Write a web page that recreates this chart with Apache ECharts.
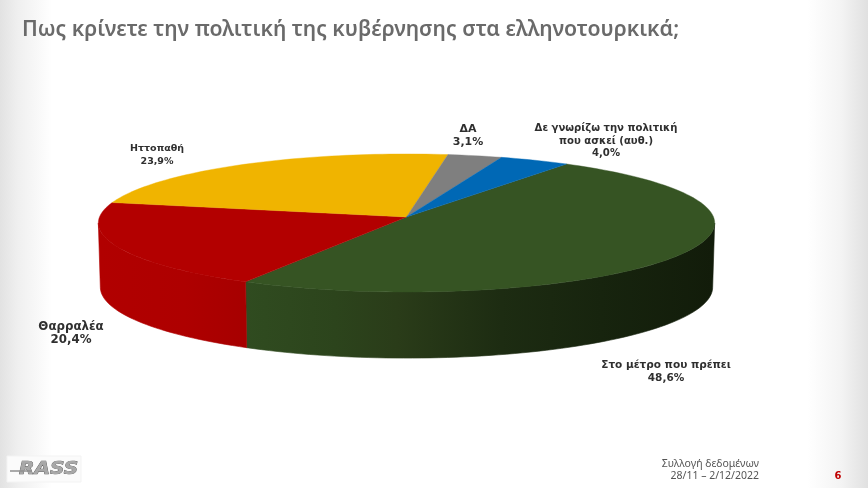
<!DOCTYPE html>
<html><head><meta charset="utf-8">
<style>html,body{margin:0;padding:0;background:#fff}#c{width:868px;height:488px}</style>
<script src="https://cdn.jsdelivr.net/npm/echarts@6/dist/echarts.min.js"></script>
</head><body><div id="c"></div>
<script>
var categories = ['Στο μέτρο που πρέπει','Θαρραλέα','Ηττοπαθή','ΔΑ','Δε γνωρίζω την πολιτική\nπου ασκεί (αυθ.)'];
var values = [48.6,20.4,23.9,3.1,4.0];
var topColors = ['#365423','#b30000','#f0b400','#7f7f7f','#0068b5'];
var titleText = 'Πως κρίνετε την πολιτική της κυβέρνησης στα ελληνοτουρκικά;';
var footerLines = 'Συλλογή δεδομένων\n28/11 – 2/12/2022';
var pageNumber = '6';

// layout of the tilted pie (perspective-projected circle)
var startDeg = 34, cx = 406.5, cyTop = 217, cyBot = 281;
var radX = 307, radXBot = 305, radY = 68.5, radYBot = 70.4, persp = 0.087;
var labelPos = [[666,372],[71,333.5],[157,155],[468,135.5],[606,141]];
var labelSize = [10.5,11.8,9.5,11,10.1];
var labelLeading = [12.5,13,12.5,13.5,12.5];
var sideStops = [
  {x0:241,x1:714,stops:[[0,'#304c20'],[0.2,'#2c441c'],[0.33,'#2a3c19'],[0.55,'#1d2c12'],[0.76,'#17240e'],[1,'#121c0a']]},
  {x0:100,x1:241,stops:[[0,'#b10000'],[0.6,'#ae0000'],[1,'#a70000']]}
];

function pt(deg, bottom){
  var r = deg*Math.PI/180, sx = Math.sin(r), s = -Math.cos(r), d = 1-persp*s;
  return bottom ? [cx+radXBot*sx/d, cyBot+radYBot*s/d] : [cx+radX*sx/d, cyTop+radY*s/d];
}
function arc(a,b,bottom){
  var out=[], n=Math.max(2,Math.ceil((b-a)/1.5));
  for(var i=0;i<=n;i++) out.push(pt(a+(b-a)*i/n,bottom));
  return out;
}
var total = values.reduce(function(p,v){return p+v;},0);
function fmt(v){return v.toFixed(1).replace('.',',')+'%';}

function renderItem(params, api){
  var idx = params.dataIndex, v = api.value(0);
  var before = 0;
  for(var i=0;i<idx;i++) before += values[i];
  var a0 = startDeg + before/total*360, a1 = a0 + v/total*360;
  var kids = [];
  var lo = Math.max(a0,95), hi = Math.min(a1,265);
  if(hi>lo && sideStops[idx]){
    var g = sideStops[idx];
    var poly = arc(lo,hi,false).concat(arc(lo,hi,true).reverse());
    var grad = {type:'linear',x:g.x0,y:0,x2:g.x1,y2:0,global:true,
        colorStops:g.stops.map(function(s){return {offset:s[0],color:s[1]};})};
    kids.push({type:'polygon',shape:{points:poly},style:{fill:grad,stroke:grad,lineWidth:0.6}});
  }
  var face = [[cx,cyTop]].concat(arc(a0,a1,false));
  kids.push({type:'polygon',shape:{points:face},style:{fill:topColors[idx],stroke:topColors[idx],lineWidth:0.4}});
  return {type:'group',children:kids};
}
function renderLabel(params, api){
  var idx = params.dataIndex, p = labelPos[idx];
  return {type:'text',style:{x:p[0],y:p[1],text:categories[idx]+'\n'+fmt(api.value(0)),
    align:'center',verticalAlign:'middle',fill:'#2f2f2f',lineHeight:labelLeading[idx],
    font:'bold '+labelSize[idx]+'px "DejaVu Sans"'}};
}
var chart = echarts.init(document.getElementById('c'),null,{renderer:'canvas'});
var rows = values.map(function(v){return [v];});
chart.setOption({
  animation:false,
  backgroundColor:'#ffffff',
  graphic:[
    {type:'rect',z:-10,shape:{x:0,y:0,width:868,height:488},style:{fill:{type:'linear',x:0,y:0,x2:1,y2:0,colorStops:[
      {offset:0,color:'#e2e2e2'},{offset:0.02,color:'#efefef'},{offset:0.06,color:'#ffffff'},
      {offset:0.93,color:'#ffffff'},{offset:0.97,color:'#f3f3f3'},{offset:1,color:'#e0e0e0'}]}}},
    {type:'text',z:10,style:{x:22,y:30,text:titleText,verticalAlign:'middle',fill:'#6a6a6a',font:'600 21.2px "Noto Sans"'}},
    {type:'text',z:10,style:{x:759,y:470,text:footerLines,align:'right',verticalAlign:'middle',fill:'#555555',lineHeight:12,font:'10.5px "Noto Sans"'}},
    {type:'text',z:10,style:{x:838,y:476,text:pageNumber,align:'center',verticalAlign:'middle',fill:'#c00000',font:'bold 10px "DejaVu Sans"'}},
    {type:'rect',z:9,shape:{x:7,y:456,width:74,height:26},style:{fill:'#fbfbfb',stroke:'#f3f3f3',lineWidth:1}},
    {type:'line',z:11,shape:{x1:10,y1:471,x2:32,y2:471},style:{stroke:'#8f8f8f',lineWidth:1.5}},
    {type:'text',z:10,x:19,y:470,scaleX:1.18,style:{x:0,y:0,text:'RASS',verticalAlign:'middle',fill:'#a8a8a8',stroke:'#555555',lineWidth:0.7,font:'italic bold 17px "DejaVu Sans"'}}
  ],
  series:[
    {type:'custom',coordinateSystem:'none',data:rows,encode:{value:0},renderItem:renderItem,silent:true},
    {type:'custom',coordinateSystem:'none',data:rows,encode:{value:0},renderItem:renderLabel,silent:true,z:5}
  ]
});
</script></body></html>
